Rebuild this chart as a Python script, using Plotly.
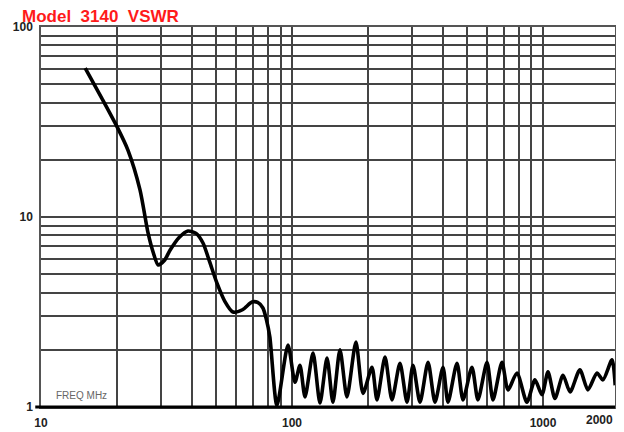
import plotly.graph_objects as go

# ---- data ----
freq_mhz = [15, 17.5, 20.1, 22.2, 24.8, 26.7, 28.0, 29.3, 31.0, 32.7, 35.5, 38.5, 41.5, 44.2,
            47.0, 50.2, 54.0, 58.2, 63.5, 69.3, 73.0, 76.6, 79.0, 81.6,
            87.1, 96.4, 102.8, 107.6, 112.7, 121.3, 129.3, 137.9, 145.6, 155.3, 165.6, 179.8,
            191.9, 208.3, 218.1, 234.8, 250.2, 269.3, 287.2, 303.5, 323.6, 348.4, 371.5,
            399.6, 418.4, 454.3, 480.2, 521.2, 550.8, 598.4, 632.2, 686.6, 725.6, 787.6,
            863.0, 929.0, 990.8, 1047, 1116, 1202, 1282, 1403, 1510, 1641, 1734, 1883, 1940]
vswr = [60.8, 42.0, 29.8, 22.5, 13.9, 8.24, 6.5, 5.59, 5.9, 6.7, 7.8, 8.44, 8.2, 7.3,
        5.8, 4.5, 3.6, 3.16, 3.25, 3.57, 3.55, 3.32, 2.9, 2.34,
        1.02, 2.12, 1.35, 1.66, 1.13, 1.92, 1.05, 1.81, 1.06, 2.0, 1.13, 2.20,
        1.18, 1.62, 1.09, 1.83, 1.09, 1.70, 1.06, 1.66, 1.06, 1.72, 1.06,
        1.62, 1.06, 1.70, 1.09, 1.62, 1.09, 1.72, 1.09, 1.72, 1.23, 1.51,
        1.06, 1.39, 1.16, 1.53, 1.11, 1.47, 1.20, 1.57, 1.23, 1.51, 1.39, 1.77, 1.30]

x_grid = [10, 20, 30, 40, 50, 60, 70, 80, 90, 100, 200, 300, 400, 500, 600, 700, 800, 900, 1000]
x_labels = ["10", "", "", "", "", "", "", "", "", "100", "", "", "", "", "", "", "", "", "1000"]
x_extra_label = "2000"
y_grid = [1, 2, 3, 4, 5, 6, 7, 8, 9, 10, 20, 30, 40, 50, 60, 70, 80, 90, 100]
y_labels = ["1", "", "", "", "", "", "", "", "", "10", "", "", "", "", "", "", "", "", "100"]

title_text = "Model  3140  VSWR"
axis_note = "FREQ MHz"

fig = go.Figure()
fig.add_trace(go.Scatter(
    x=freq_mhz, y=vswr, mode="lines",
    line=dict(color="black", width=3.6, shape="spline", smoothing=0.7),
    showlegend=False, hoverinfo="skip",
))

tick_font = dict(family="Liberation Sans, Arial, sans-serif", size=12, color="#222", weight="bold")

fig.update_xaxes(
    type="log", range=[1, 3.287], automargin=False,
    tickmode="array", tickvals=x_grid, ticktext=x_labels,
    showgrid=True, gridcolor="#444", gridwidth=1.6,
    showline=True, linecolor="#555", linewidth=1.5, mirror=True,
    ticks="", tickfont=tick_font, ticklabelstandoff=4,
    zeroline=False,
)
fig.update_yaxes(
    type="log", range=[0, 2], automargin=False,
    tickmode="array", tickvals=y_grid, ticktext=y_labels,
    showgrid=True, gridcolor="#444", gridwidth=1.6,
    showline=True, linecolor="#555", linewidth=1.5, mirror=True,
    ticks="", tickfont=tick_font, ticklabelstandoff=4,
    zeroline=False,
)

fig.add_shape(type="line", xref="paper", yref="paper", x0=-0.01, x1=1, y0=0, y1=0,
              line=dict(color="black", width=3))

fig.add_annotation(
    x=1.0, y=0, xref="paper", yref="paper", text=x_extra_label,
    xanchor="right", yanchor="top", yshift=-4, showarrow=False, font=tick_font,
)
fig.add_annotation(
    x=0.022, y=0.01, xref="paper", yref="paper", text=axis_note,
    xanchor="left", yanchor="bottom", showarrow=False,
    font=dict(family="Liberation Sans, Arial, sans-serif", size=10, color="#666"),
    bgcolor="white", borderpad=1,
)
fig.add_annotation(
    x=(21 - 41) / 574, y=1 + (27 - 16) / 380, xref="paper", yref="paper", text=title_text,
    xanchor="left", yanchor="middle", showarrow=False, borderpad=0,
    font=dict(family="Liberation Sans, Arial, sans-serif", size=17, color="#ff1a1a", weight="bold"),
)

# page body has an 8px default margin, so the figure is sized/margined to land the
# plot frame at the reference's pixel positions
fig.update_layout(
    width=616, height=424,
    margin=dict(l=33, r=9, t=19, b=25, autoexpand=False),
    paper_bgcolor="white", plot_bgcolor="white",
)

fig.write_html("out.html")
